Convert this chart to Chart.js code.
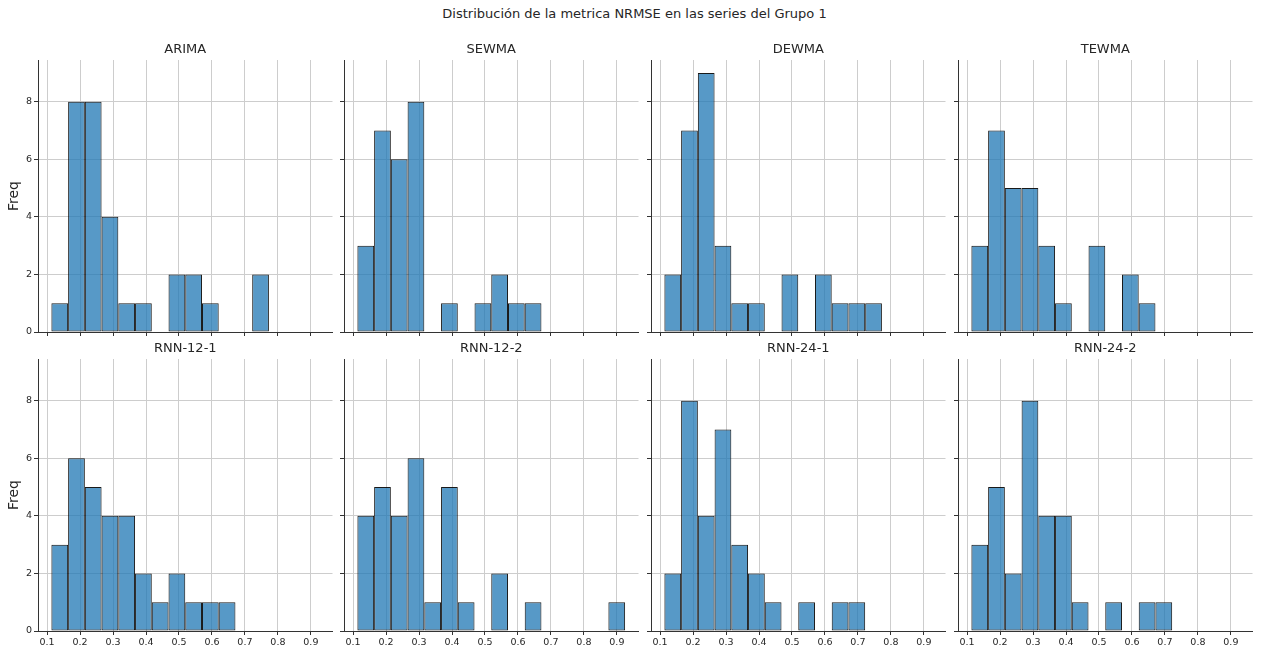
<!DOCTYPE html>
<html>
<head>
<meta charset="utf-8">
<script src="https://cdn.jsdelivr.net/npm/chart.js@4.4.1/dist/chart.umd.min.js"></script>
<style>
  html, body { margin: 0; padding: 0; background: #ffffff; }
  #fig { position: relative; width: 1261px; height: 651px; overflow: hidden; background: #ffffff; }
  #suptitle {
    position: absolute; left: 4px; top: 6px; width: 1261px; text-align: center;
    font-family: 'DejaVu Sans', sans-serif; font-size: 13px; line-height: 16px; color: #262626;
  }
  #fig canvas { position: absolute; }
</style>
</head>
<body>
<div id="fig">
  <div id="suptitle">Distribución de la metrica NRMSE en las series del Grupo 1</div>
</div>
<script>
// Histogram bins: 16 equal-width bins of NRMSE
const binStart = 0.113;
const binWidth = 0.05075;

// Axis ticks
const xTickLabels = ['0.1', '0.2', '0.3', '0.4', '0.5', '0.6', '0.7', '0.8', '0.9'];
const yTickValues = [0, 2, 4, 6, 8];

// Panel titles, row by row
const panelTitles = ['ARIMA', 'SEWMA', 'DEWMA', 'TEWMA', 'RNN-12-1', 'RNN-12-2', 'RNN-24-1', 'RNN-24-2'];

// Counts per bin for each model (30 series each)
const arima  = [1, 8, 8, 4, 1, 1, 0, 2, 2, 1, 0, 0, 2, 0, 0, 0];
const sewma  = [3, 7, 6, 8, 0, 1, 0, 1, 2, 1, 1, 0, 0, 0, 0, 0];
const dewma  = [2, 7, 9, 3, 1, 1, 0, 2, 0, 2, 1, 1, 1, 0, 0, 0];
const tewma  = [3, 7, 5, 5, 3, 1, 0, 3, 0, 2, 1, 0, 0, 0, 0, 0];
const rnn121 = [3, 6, 5, 4, 4, 2, 1, 2, 1, 1, 1, 0, 0, 0, 0, 0];
const rnn122 = [4, 5, 4, 6, 1, 5, 1, 0, 2, 0, 1, 0, 0, 0, 0, 1];
const rnn241 = [2, 8, 4, 7, 3, 2, 1, 0, 1, 0, 1, 1, 0, 0, 0, 0];
const rnn242 = [3, 5, 2, 8, 4, 4, 1, 0, 1, 0, 1, 1, 0, 0, 0, 0];

const panelCounts = [arima, sewma, dewma, tewma, rnn121, rnn122, rnn241, rnn242];

// Shared axis limits
const xMin = 0.0724, xMax = 0.9656;
const yMin = 0, yMax = 9.45;

// Grid layout of the 2x4 subplots (plot-area geometry in page pixels)
const colLeft = [38, 344, 651, 958];
const rowTop = [60, 359];
const plotW = 294.5, plotH = 272;
const axisW = 38, titleH = 17, bottomH = 20, padR = 4.5;

const textColor = '#262626';
const gridColor = '#cdcdcd';
const spineColor = '#333333';
const barFill = 'rgba(31, 119, 180, 0.75)';
const barEdge = 'rgba(0, 0, 0, 0.9)';

Chart.defaults.font.family = "'DejaVu Sans', sans-serif";
Chart.defaults.color = textColor;

// Subplot title centred over the plot area (not the whole canvas)
const panelTitlePlugin = {
  id: 'panelTitle',
  afterDraw(chart, args, opts) {
    const { ctx, chartArea } = chart;
    ctx.save();
    ctx.font = "13px 'DejaVu Sans', sans-serif";
    ctx.fillStyle = textColor;
    ctx.textAlign = 'center';
    ctx.textBaseline = 'middle';
    ctx.fillText(opts.text, (chartArea.left + chartArea.right) / 2, chartArea.top - 10);
    ctx.restore();
  }
};

const fig = document.getElementById('fig');

panelCounts.forEach((counts, idx) => {
  const r = Math.floor(idx / 4);
  const c = idx % 4;
  const canvas = document.createElement('canvas');
  const w = Math.ceil(axisW + plotW + padR);
  const h = titleH + plotH + bottomH;
  canvas.width = w;
  canvas.height = h;
  canvas.style.width = w + 'px';
  canvas.style.height = h + 'px';
  canvas.style.left = (colLeft[c] - axisW) + 'px';
  canvas.style.top = (rowTop[r] - titleH) + 'px';
  fig.appendChild(canvas);

  const points = counts.map((n, i) => ({ x: binStart + binWidth * (i + 0.5), y: n }));

  new Chart(canvas.getContext('2d'), {
    type: 'bar',
    data: {
      datasets: [{
        data: points,
        backgroundColor: ctx => (ctx.raw && ctx.raw.y > 0) ? barFill : 'rgba(0,0,0,0)',
        borderColor: barEdge,
        borderWidth: ctx => (ctx.raw && ctx.raw.y > 0) ? 1 : 0,
        borderSkipped: false,
        barPercentage: 1,
        categoryPercentage: 1,
        grouped: false,
        inflateAmount: 0
      }]
    },
    plugins: [panelTitlePlugin],
    options: {
      responsive: false,
      animation: false,
      devicePixelRatio: 1,
      events: [],
      layout: { padding: { left: 0, right: w - (axisW + plotW), top: titleH, bottom: 0 } },
      plugins: {
        legend: { display: false },
        tooltip: { enabled: false },
        title: { display: false },
        panelTitle: { text: panelTitles[idx] }
      },
      scales: {
        x: {
          type: 'linear',
          offset: false,
          min: xMin,
          max: xMax,
          afterBuildTicks: s => { s.ticks = xTickLabels.map(t => ({ value: parseFloat(t) })); },
          afterFit: s => { s.height = bottomH; },
          ticks: {
            display: r === 1,
            autoSkip: false,
            maxRotation: 0,
            minRotation: 0,
            padding: 2,
            color: textColor,
            font: { size: 9.5 },
            callback: (v, i) => xTickLabels[i]
          },
          grid: { offset: false, color: gridColor, lineWidth: 1, tickLength: 4, tickColor: spineColor, drawTicks: true },
          border: { display: true, color: spineColor, width: 1 }
        },
        y: {
          type: 'linear',
          min: yMin,
          max: yMax,
          afterBuildTicks: s => { s.ticks = yTickValues.map(v => ({ value: v })); },
          afterFit: s => { s.width = axisW; },
          ticks: {
            display: c === 0,
            padding: 2,
            color: textColor,
            font: { size: 9.5 },
            callback: v => String(v)
          },
          title: {
            display: c === 0,
            text: 'Freq',
            color: textColor,
            font: { size: 14 },
            padding: { top: 5.5, bottom: 0 }
          },
          grid: { color: gridColor, lineWidth: 1, tickLength: 4, tickColor: spineColor, drawTicks: true },
          border: { display: true, color: spineColor, width: 1 }
        }
      }
    }
  });
});
</script>
</body>
</html>
